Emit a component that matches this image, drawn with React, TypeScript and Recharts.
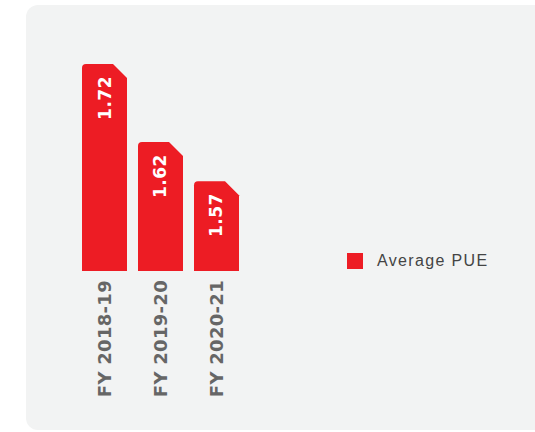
import React from "react";
import { BarChart, Bar, XAxis, YAxis, LabelList } from "recharts";

const categories = ["FY 2018-19", "FY 2019-20", "FY 2020-21"];
const pueValues = [1.72, 1.62, 1.57];
const seriesName = "Average PUE";

const data = categories.map((c, i) => ({ name: c, pue: pueValues[i] }));

const RED = "#ED1C24";

const ChamferBar = (props: any) => {
  const { x, y, width, height, fill } = props;
  if (!height || height <= 0) return null;
  const r = 4;
  const c = 14;
  const d = `M${x},${y + height} L${x},${y + r} Q${x},${y} ${x + r},${y} L${x + width - c},${y} L${x + width},${y + c} L${x + width},${y + height} Z`;
  return <path d={d} fill={fill} />;
};

const ValueLabel = (props: any) => {
  const { x, y, width, value } = props;
  const cx = x + width / 2;
  const ty = y + 12;
  return (
    <text
      x={cx}
      y={ty}
      transform={`rotate(-90 ${cx} ${ty})`}
      textAnchor="end"
      dominantBaseline="central"
      fill="#ffffff"
      fontFamily="DejaVu Sans, sans-serif"
      fontWeight="bold"
      fontSize={17}
      letterSpacing={0.5}
    >
      {value}
    </text>
  );
};

const Tick = (props: any) => {
  const { x, y, payload } = props;
  const ty = y + 1;
  return (
    <text
      x={x}
      y={ty}
      transform={`rotate(-90 ${x} ${ty})`}
      textAnchor="end"
      dominantBaseline="central"
      fill="#666666"
      fontFamily="DejaVu Sans, sans-serif"
      fontWeight="bold"
      fontSize={18}
      letterSpacing={0.3}
    >
      {payload.value}
    </text>
  );
};

export default function App() {
  return (
    <div style={{ position: "absolute", left: 0, top: 0, width: 535, height: 432, overflow: "hidden", background: "#ffffff" }}>
      <div
        style={{
          position: "absolute",
          left: 26,
          top: 5,
          width: 540,
          height: 425,
          background: "#f2f3f3",
          borderRadius: 12,
        }}
      />
      <div style={{ position: "absolute", left: 0, top: 0 }}>
        <BarChart width={535} height={432} data={data} margin={{ top: 64, right: 291, bottom: 31, left: 76 }}>
          <YAxis hide domain={[1.455, 1.72]} allowDataOverflow />
          <XAxis dataKey="name" axisLine={false} tickLine={false} interval={0} height={130} tick={<Tick />} />
          <Bar dataKey="pue" name={seriesName} fill={RED} barSize={45} shape={<ChamferBar />} isAnimationActive={false}>
            <LabelList dataKey="pue" content={<ValueLabel />} />
          </Bar>
        </BarChart>
      </div>
      <div
        style={{
          position: "absolute",
          left: 347,
          top: 252,
          display: "flex",
          alignItems: "center",
          fontFamily: "Liberation Sans, Arial, sans-serif",
          fontSize: 16,
          color: "#444444",
          letterSpacing: 1.35,
        }}
      >
        <span style={{ display: "inline-block", width: 16, height: 16, background: RED, marginRight: 14 }} />
        <span>{seriesName}</span>
      </div>
    </div>
  );
}
